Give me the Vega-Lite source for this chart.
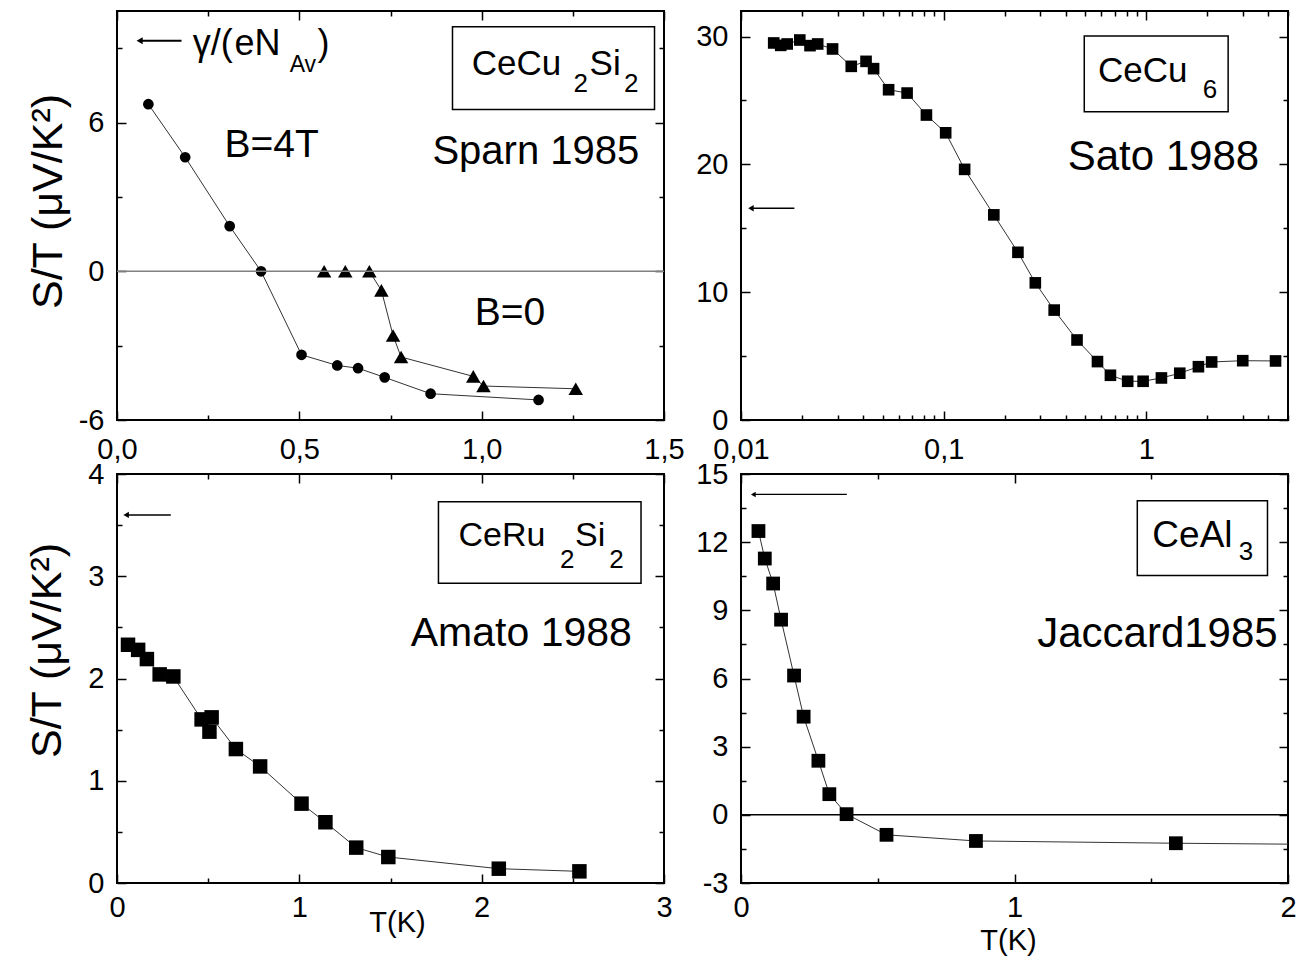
{
  "$schema": "https://vega.github.io/schema/vega-lite/v6.json",
  "background": "white",
  "padding": {"left": 25, "top": 9, "right": 5, "bottom": 5},
  "config": {
    "font": "Liberation Sans",
    "view": {"stroke": "black", "strokeWidth": 2},
    "axis": {"grid": false, "domain": false, "tickColor": "black", "tickWidth": 1.5, "labelFont": "Liberation Sans", "labelFontSize": 29, "labelColor": "black", "labelFlush": false, "labelOverlap": false, "labelBound": false, "titleFont": "Liberation Sans", "titleFontWeight": "normal", "titleColor": "black"}
  },
  "datasets": {
    "p1": [
      {"B": "4T", "T": 0.0860, "S": 6.74}, {"B": "4T", "T": 0.187, "S": 4.60}, {"B": "4T", "T": 0.309, "S": 1.82}, {"B": "4T", "T": 0.395, "S": 0.0}, {"B": "4T", "T": 0.506, "S": -3.37}, {"B": "4T", "T": 0.604, "S": -3.8}, {"B": "4T", "T": 0.661, "S": -3.91}, {"B": "4T", "T": 0.734, "S": -4.28}, {"B": "4T", "T": 0.86, "S": -4.94}, {"B": "4T", "T": 1.156, "S": -5.19},
      {"B": "0", "T": 0.568, "S": 0.0}, {"B": "0", "T": 0.626, "S": 0.0}, {"B": "0", "T": 0.692, "S": 0.0}, {"B": "0", "T": 0.725, "S": -0.77}, {"B": "0", "T": 0.757, "S": -2.59}, {"B": "0", "T": 0.779, "S": -3.46}, {"B": "0", "T": 0.977, "S": -4.24}, {"B": "0", "T": 1.005, "S": -4.63}, {"B": "0", "T": 1.258, "S": -4.74}
    ],
    "p2": [
      {"T": 0.0145, "S": 29.5}, {"T": 0.0157, "S": 29.31}, {"T": 0.0169, "S": 29.42}, {"T": 0.0195, "S": 29.73}, {"T": 0.0219, "S": 29.29}, {"T": 0.0239, "S": 29.42}, {"T": 0.0283, "S": 29.03}, {"T": 0.035, "S": 27.67}, {"T": 0.0414, "S": 28.06}, {"T": 0.0451, "S": 27.49}, {"T": 0.0535, "S": 25.84}, {"T": 0.066, "S": 25.58}, {"T": 0.0822, "S": 23.86}, {"T": 0.1023, "S": 22.47}, {"T": 0.1269, "S": 19.61}, {"T": 0.1768, "S": 16.05}, {"T": 0.2325, "S": 13.12}, {"T": 0.2833, "S": 10.73}, {"T": 0.351, "S": 8.6}, {"T": 0.455, "S": 6.26}, {"T": 0.574, "S": 4.57}, {"T": 0.665, "S": 3.5}, {"T": 0.809, "S": 3.03}, {"T": 0.964, "S": 3.03}, {"T": 1.187, "S": 3.29}, {"T": 1.462, "S": 3.66}, {"T": 1.807, "S": 4.17}, {"T": 2.1, "S": 4.54}, {"T": 2.99, "S": 4.64}, {"T": 4.34, "S": 4.62}
    ],
    "p3": [
      {"T": 0.0604, "S": 2.33}, {"T": 0.116, "S": 2.28}, {"T": 0.164, "S": 2.19}, {"T": 0.234, "S": 2.04}, {"T": 0.309, "S": 2.02}, {"T": 0.464, "S": 1.6}, {"T": 0.507, "S": 1.48}, {"T": 0.519, "S": 1.62}, {"T": 0.652, "S": 1.31}, {"T": 0.785, "S": 1.14}, {"T": 1.012, "S": 0.776}, {"T": 1.143, "S": 0.594}, {"T": 1.312, "S": 0.346}, {"T": 1.488, "S": 0.254}, {"T": 2.094, "S": 0.14}, {"T": 2.536, "S": 0.114}
    ],
    "p4": [
      {"T": 0.0638, "S": 12.49}, {"T": 0.087, "S": 11.28}, {"T": 0.1175, "S": 10.18}, {"T": 0.1465, "S": 8.59}, {"T": 0.194, "S": 6.13}, {"T": 0.229, "S": 4.32}, {"T": 0.283, "S": 2.38}, {"T": 0.323, "S": 0.91}, {"T": 0.386, "S": 0.03}, {"T": 0.532, "S": -0.88}, {"T": 0.859, "S": -1.15}, {"T": 1.59, "S": -1.25}
    ],
    "p4line": [
      {"T": 0.0638, "S": 12.49}, {"T": 0.087, "S": 11.28}, {"T": 0.1175, "S": 10.18}, {"T": 0.1465, "S": 8.59}, {"T": 0.194, "S": 6.13}, {"T": 0.229, "S": 4.32}, {"T": 0.283, "S": 2.38}, {"T": 0.323, "S": 0.91}, {"T": 0.386, "S": 0.03}, {"T": 0.532, "S": -0.88}, {"T": 0.859, "S": -1.15}, {"T": 1.59, "S": -1.25}, {"T": 2.0, "S": -1.29}
    ]
  },
  "columns": 2,
  "spacing": {"row": 54, "column": 77},
  "bounds": "flush",
  "concat": [
    {
      "width": 547, "height": 409,
      "resolve": {"axis": {"x": "independent", "y": "independent"}},
      "layer": [
        {"data": {"name": "p1"}, "mark": {"type": "line", "color": "#333", "strokeWidth": 1},
         "encoding": {
           "x": {"field": "T", "type": "quantitative", "scale": {"domain": [0, 1.5], "nice": false, "zero": false},
                 "axis": {"orient": "bottom", "values": [0, 0.25, 0.5, 0.75, 1, 1.25, 1.5], "tickSize": {"condition": {"test": "datum.value*2 == round(datum.value*2)", "value": -9}, "value": -5}, "labelExpr": "datum.value*2 == round(datum.value*2) ? replace(format(datum.value, '.1f'), '.', ',') : ''", "labelPadding": 24, "title": null}},
           "y": {"field": "S", "type": "quantitative", "scale": {"domain": [-6, 10.5], "nice": false, "zero": false},
                 "axis": {"orient": "left", "values": [-6, -3, 0, 3, 6, 9], "tickSize": {"condition": {"test": "datum.value % 6 == 0", "value": -9}, "value": -5}, "labelExpr": "datum.value % 6 == 0 ? '' + datum.value : ''", "labelPadding": 22, "title": "S/T (μV/K²)", "titleFontSize": 43, "titleX": -69, "titleY": 190, "titleAlign": "center", "titleBaseline": "middle", "titleAngle": -90}},
           "detail": {"field": "B"}
         }},
        {"data": {"name": "p1"}, "mark": {"type": "point", "filled": true, "color": "black", "opacity": 1},
         "encoding": {
           "x": {"field": "T", "type": "quantitative", "scale": {"domain": [0, 1.5], "nice": false, "zero": false},
                 "axis": {"orient": "top", "values": [0, 0.25, 0.5, 0.75, 1, 1.25, 1.5], "tickSize": {"condition": {"test": "datum.value*2 == round(datum.value*2)", "value": -9}, "value": -5}, "labels": false, "title": null}},
           "y": {"field": "S", "type": "quantitative", "scale": {"domain": [-6, 10.5], "nice": false, "zero": false},
                 "axis": {"orient": "right", "values": [-6, -3, 0, 3, 6, 9], "tickSize": {"condition": {"test": "datum.value % 6 == 0", "value": -9}, "value": -5}, "labels": false, "title": null}},
           "shape": {"field": "B", "type": "nominal", "scale": {"domain": ["4T", "0"], "range": ["circle", "triangle-up"]}, "legend": null},
           "size": {"field": "B", "type": "nominal", "scale": {"domain": ["4T", "0"], "range": [115, 210]}, "legend": null}
         }},
        {"data": {"values": [{}]}, "mark": {"type": "rule", "color": "#808080", "strokeWidth": 1.5},
         "encoding": {"y": {"datum": 0, "type": "quantitative", "axis": null}}},
        {"data": {"values": [{}]}, "mark": {"type": "rect", "fill": "white", "fillOpacity": 0, "stroke": "black", "strokeWidth": 1.5},
         "encoding": {"x": {"datum": 0.92, "type": "quantitative", "axis": null}, "x2": {"datum": 1.474}, "y": {"datum": 9.86, "type": "quantitative", "axis": null}, "y2": {"datum": 6.53}}},
        {"data": {"values": [{}]}, "mark": {"type": "rule", "color": "black", "strokeWidth": 2},
         "encoding": {"x": {"datum": 0.062, "type": "quantitative", "axis": null}, "x2": {"datum": 0.177}, "y": {"datum": 9.3, "type": "quantitative", "axis": null}}},
        {"data": {"values": [{}]}, "mark": {"type": "point", "shape": "triangle-left", "filled": true, "color": "black", "opacity": 1, "size": 50},
         "encoding": {"x": {"datum": 0.062, "type": "quantitative", "axis": null}, "y": {"datum": 9.3, "type": "quantitative", "axis": null}}},
        {"data": {"values": [{}]}, "mark": {"type": "text", "text": "γ/(", "fontSize": 36, "align": "left", "baseline": "alphabetic", "color": "black"},
         "encoding": {"x": {"datum": 0.208, "type": "quantitative", "axis": null}, "y": {"datum": 8.73, "type": "quantitative", "axis": null}}},
        {"data": {"values": [{}]}, "mark": {"type": "text", "text": "eN", "fontSize": 36, "align": "left", "baseline": "alphabetic", "color": "black"},
         "encoding": {"x": {"datum": 0.322, "type": "quantitative", "axis": null}, "y": {"datum": 8.73, "type": "quantitative", "axis": null}}},
        {"data": {"values": [{}]}, "mark": {"type": "text", "text": "Av", "fontSize": 23, "align": "left", "baseline": "alphabetic", "color": "black"},
         "encoding": {"x": {"datum": 0.4735, "type": "quantitative", "axis": null}, "y": {"datum": 8.05, "type": "quantitative", "axis": null}}},
        {"data": {"values": [{}]}, "mark": {"type": "text", "text": ")", "fontSize": 36, "align": "left", "baseline": "alphabetic", "color": "black"},
         "encoding": {"x": {"datum": 0.55, "type": "quantitative", "axis": null}, "y": {"datum": 8.73, "type": "quantitative", "axis": null}}},
        {"data": {"values": [{}]}, "mark": {"type": "text", "text": "CeCu", "fontSize": 35, "align": "left", "baseline": "alphabetic", "color": "black"},
         "encoding": {"x": {"datum": 0.973, "type": "quantitative", "axis": null}, "y": {"datum": 7.92, "type": "quantitative", "axis": null}}},
        {"data": {"values": [{}]}, "mark": {"type": "text", "text": "2", "fontSize": 26, "align": "left", "baseline": "alphabetic", "color": "black"},
         "encoding": {"x": {"datum": 1.252, "type": "quantitative", "axis": null}, "y": {"datum": 7.22, "type": "quantitative", "axis": null}}},
        {"data": {"values": [{}]}, "mark": {"type": "text", "text": "Si", "fontSize": 35, "align": "left", "baseline": "alphabetic", "color": "black"},
         "encoding": {"x": {"datum": 1.296, "type": "quantitative", "axis": null}, "y": {"datum": 7.92, "type": "quantitative", "axis": null}}},
        {"data": {"values": [{}]}, "mark": {"type": "text", "text": "2", "fontSize": 26, "align": "left", "baseline": "alphabetic", "color": "black"},
         "encoding": {"x": {"datum": 1.39, "type": "quantitative", "axis": null}, "y": {"datum": 7.22, "type": "quantitative", "axis": null}}},
        {"data": {"values": [{}]}, "mark": {"type": "text", "text": "Sparn 1985", "fontSize": 40, "align": "left", "baseline": "alphabetic", "color": "black"},
         "encoding": {"x": {"datum": 0.865, "type": "quantitative", "axis": null}, "y": {"datum": 4.31, "type": "quantitative", "axis": null}}},
        {"data": {"values": [{}]}, "mark": {"type": "text", "text": "B=4T", "fontSize": 39, "align": "left", "baseline": "alphabetic", "color": "black"},
         "encoding": {"x": {"datum": 0.295, "type": "quantitative", "axis": null}, "y": {"datum": 4.62, "type": "quantitative", "axis": null}}},
        {"data": {"values": [{}]}, "mark": {"type": "text", "text": "B=0", "fontSize": 39, "align": "left", "baseline": "alphabetic", "color": "black"},
         "encoding": {"x": {"datum": 0.981, "type": "quantitative", "axis": null}, "y": {"datum": -2.18, "type": "quantitative", "axis": null}}}
      ]
    },
    {
      "width": 547, "height": 409,
      "resolve": {"axis": {"x": "independent", "y": "independent"}},
      "layer": [
        {"data": {"name": "p2"}, "mark": {"type": "line", "color": "#333", "strokeWidth": 1},
         "encoding": {
           "x": {"field": "T", "type": "quantitative", "scale": {"type": "log", "domain": [0.01, 5], "nice": false},
                 "axis": {"orient": "bottom", "values": [0.01, 0.02, 0.03, 0.04, 0.05, 0.06, 0.07, 0.08, 0.09, 0.1, 0.2, 0.3, 0.4, 0.5, 0.6, 0.7, 0.8, 0.9, 1, 2, 3, 4, 5], "tickSize": {"condition": {"test": "datum.value == 0.01 || datum.value == 0.1 || datum.value == 1", "value": -9}, "value": -5}, "labelExpr": "datum.value == 0.01 || datum.value == 0.1 || datum.value == 1 ? replace(format(datum.value, '~g'), '.', ',') : ''", "labelPadding": 24, "title": null}},
           "y": {"field": "S", "type": "quantitative", "scale": {"domain": [0, 32], "nice": false, "zero": false},
                 "axis": {"orient": "left", "values": [0, 5, 10, 15, 20, 25, 30], "tickSize": {"condition": {"test": "datum.value % 10 == 0", "value": -9}, "value": -5}, "labelExpr": "datum.value % 10 == 0 ? '' + datum.value : ''", "labelPadding": 22, "title": null}}
         }},
        {"data": {"name": "p2"}, "mark": {"type": "point", "shape": "square", "filled": true, "color": "black", "opacity": 1, "size": 135},
         "encoding": {
           "x": {"field": "T", "type": "quantitative", "scale": {"type": "log", "domain": [0.01, 5], "nice": false},
                 "axis": {"orient": "top", "values": [0.01, 0.02, 0.03, 0.04, 0.05, 0.06, 0.07, 0.08, 0.09, 0.1, 0.2, 0.3, 0.4, 0.5, 0.6, 0.7, 0.8, 0.9, 1, 2, 3, 4, 5], "tickSize": {"condition": {"test": "datum.value == 0.01 || datum.value == 0.1 || datum.value == 1", "value": -9}, "value": -5}, "labels": false, "title": null}},
           "y": {"field": "S", "type": "quantitative", "scale": {"domain": [0, 32], "nice": false, "zero": false},
                 "axis": {"orient": "right", "values": [0, 5, 10, 15, 20, 25, 30], "tickSize": {"condition": {"test": "datum.value % 10 == 0", "value": -9}, "value": -5}, "labels": false, "title": null}}
         }},
        {"data": {"values": [{}]}, "mark": {"type": "rect", "fill": "white", "fillOpacity": 0, "stroke": "black", "strokeWidth": 1.5},
         "encoding": {"x": {"datum": 0.494, "type": "quantitative", "axis": null}, "x2": {"datum": 2.533}, "y": {"datum": 30.05, "type": "quantitative", "axis": null}, "y2": {"datum": 24.11}}},
        {"data": {"values": [{}]}, "mark": {"type": "rule", "color": "black", "strokeWidth": 1.5},
         "encoding": {"x": {"datum": 0.0112, "type": "quantitative", "axis": null}, "x2": {"datum": 0.01834}, "y": {"datum": 16.57, "type": "quantitative", "axis": null}}},
        {"data": {"values": [{}]}, "mark": {"type": "point", "shape": "triangle-left", "filled": true, "color": "black", "opacity": 1, "size": 40},
         "encoding": {"x": {"datum": 0.0112, "type": "quantitative", "axis": null}, "y": {"datum": 16.57, "type": "quantitative", "axis": null}}},
        {"data": {"values": [{}]}, "mark": {"type": "text", "text": "CeCu", "fontSize": 35, "align": "left", "baseline": "alphabetic", "color": "black"},
         "encoding": {"x": {"datum": 0.578, "type": "quantitative", "axis": null}, "y": {"datum": 26.44, "type": "quantitative", "axis": null}}},
        {"data": {"values": [{}]}, "mark": {"type": "text", "text": "6", "fontSize": 26, "align": "left", "baseline": "alphabetic", "color": "black"},
         "encoding": {"x": {"datum": 1.9, "type": "quantitative", "axis": null}, "y": {"datum": 25.21, "type": "quantitative", "axis": null}}},
        {"data": {"values": [{}]}, "mark": {"type": "text", "text": "Sato 1988", "fontSize": 42, "align": "left", "baseline": "alphabetic", "color": "black"},
         "encoding": {"x": {"datum": 0.409, "type": "quantitative", "axis": null}, "y": {"datum": 19.58, "type": "quantitative", "axis": null}}}
      ]
    },
    {
      "width": 547, "height": 409,
      "resolve": {"axis": {"x": "independent", "y": "independent"}},
      "layer": [
        {"data": {"name": "p3"}, "mark": {"type": "line", "color": "#333", "strokeWidth": 1},
         "encoding": {
           "x": {"field": "T", "type": "quantitative", "scale": {"domain": [0, 3], "nice": false, "zero": false},
                 "axis": {"orient": "bottom", "values": [0, 0.5, 1, 1.5, 2, 2.5, 3], "tickSize": {"condition": {"test": "datum.value % 1 == 0", "value": -9}, "value": -5}, "labelExpr": "datum.value % 1 == 0 ? '' + datum.value : ''", "labelPadding": 19, "title": "T(K)", "titleFontSize": 29, "titleX": 280, "titleY": 39, "titleAlign": "center", "titleBaseline": "middle"}},
           "y": {"field": "S", "type": "quantitative", "scale": {"domain": [0, 4], "nice": false, "zero": false},
                 "axis": {"orient": "left", "values": [0, 0.5, 1, 1.5, 2, 2.5, 3, 3.5, 4], "tickSize": {"condition": {"test": "datum.value % 1 == 0", "value": -9}, "value": -5}, "labelExpr": "datum.value % 1 == 0 ? '' + datum.value : ''", "labelPadding": 22, "title": "S/T (μV/K²)", "titleFontSize": 43, "titleX": -70, "titleY": 176, "titleAlign": "center", "titleBaseline": "middle", "titleAngle": -90}}
         }},
        {"data": {"name": "p3"}, "mark": {"type": "point", "shape": "square", "filled": true, "color": "black", "opacity": 1, "size": 210},
         "encoding": {
           "x": {"field": "T", "type": "quantitative", "scale": {"domain": [0, 3], "nice": false, "zero": false},
                 "axis": {"orient": "top", "values": [0, 0.5, 1, 1.5, 2, 2.5, 3], "tickSize": {"condition": {"test": "datum.value % 1 == 0", "value": -9}, "value": -5}, "labels": false, "title": null}},
           "y": {"field": "S", "type": "quantitative", "scale": {"domain": [0, 4], "nice": false, "zero": false},
                 "axis": {"orient": "right", "values": [0, 0.5, 1, 1.5, 2, 2.5, 3, 3.5, 4], "tickSize": {"condition": {"test": "datum.value % 1 == 0", "value": -9}, "value": -5}, "labels": false, "title": null}}
         }},
        {"data": {"values": [{}]}, "mark": {"type": "rect", "fill": "white", "fillOpacity": 0, "stroke": "black", "strokeWidth": 1.5},
         "encoding": {"x": {"datum": 1.763, "type": "quantitative", "axis": null}, "x2": {"datum": 2.874}, "y": {"datum": 3.728, "type": "quantitative", "axis": null}, "y2": {"datum": 2.932}}},
        {"data": {"values": [{}]}, "mark": {"type": "rule", "color": "black", "strokeWidth": 1.5},
         "encoding": {"x": {"datum": 0.05, "type": "quantitative", "axis": null}, "x2": {"datum": 0.295}, "y": {"datum": 3.6, "type": "quantitative", "axis": null}}},
        {"data": {"values": [{}]}, "mark": {"type": "point", "shape": "triangle-left", "filled": true, "color": "black", "opacity": 1, "size": 40},
         "encoding": {"x": {"datum": 0.05, "type": "quantitative", "axis": null}, "y": {"datum": 3.6, "type": "quantitative", "axis": null}}},
        {"data": {"values": [{}]}, "mark": {"type": "text", "text": "CeRu", "fontSize": 34, "align": "left", "baseline": "alphabetic", "color": "black"},
         "encoding": {"x": {"datum": 1.873, "type": "quantitative", "axis": null}, "y": {"datum": 3.297, "type": "quantitative", "axis": null}}},
        {"data": {"values": [{}]}, "mark": {"type": "text", "text": "2", "fontSize": 26, "align": "left", "baseline": "alphabetic", "color": "black"},
         "encoding": {"x": {"datum": 2.43, "type": "quantitative", "axis": null}, "y": {"datum": 3.079, "type": "quantitative", "axis": null}}},
        {"data": {"values": [{}]}, "mark": {"type": "text", "text": "Si", "fontSize": 34, "align": "left", "baseline": "alphabetic", "color": "black"},
         "encoding": {"x": {"datum": 2.512, "type": "quantitative", "axis": null}, "y": {"datum": 3.297, "type": "quantitative", "axis": null}}},
        {"data": {"values": [{}]}, "mark": {"type": "text", "text": "2", "fontSize": 26, "align": "left", "baseline": "alphabetic", "color": "black"},
         "encoding": {"x": {"datum": 2.7, "type": "quantitative", "axis": null}, "y": {"datum": 3.079, "type": "quantitative", "axis": null}}},
        {"data": {"values": [{}]}, "mark": {"type": "text", "text": "Amato 1988", "fontSize": 41, "align": "left", "baseline": "alphabetic", "color": "black"},
         "encoding": {"x": {"datum": 1.611, "type": "quantitative", "axis": null}, "y": {"datum": 2.32, "type": "quantitative", "axis": null}}}
      ]
    },
    {
      "width": 547, "height": 409,
      "resolve": {"axis": {"x": "independent", "y": "independent"}},
      "layer": [
        {"data": {"name": "p4line"}, "mark": {"type": "line", "color": "#333", "strokeWidth": 1},
         "encoding": {
           "x": {"field": "T", "type": "quantitative", "scale": {"domain": [0, 2], "nice": false, "zero": false},
                 "axis": {"orient": "bottom", "values": [0, 0.5, 1, 1.5, 2], "tickSize": {"condition": {"test": "datum.value % 1 == 0", "value": -9}, "value": -5}, "labelExpr": "datum.value % 1 == 0 ? '' + datum.value : ''", "labelPadding": 19, "title": "T(K)", "titleFontSize": 29, "titleX": 267, "titleY": 57, "titleAlign": "center", "titleBaseline": "middle"}},
           "y": {"field": "S", "type": "quantitative", "scale": {"domain": [-3, 15], "nice": false, "zero": false},
                 "axis": {"orient": "left", "values": [-3, -1.5, 0, 1.5, 3, 4.5, 6, 7.5, 9, 10.5, 12, 13.5, 15], "tickSize": {"condition": {"test": "datum.value % 3 == 0", "value": -9}, "value": -5}, "labelExpr": "datum.value % 3 == 0 ? '' + datum.value : ''", "labelPadding": 22, "title": null}}
         }},
        {"data": {"name": "p4"}, "mark": {"type": "point", "shape": "square", "filled": true, "color": "black", "opacity": 1, "size": 190},
         "encoding": {
           "x": {"field": "T", "type": "quantitative", "scale": {"domain": [0, 2], "nice": false, "zero": false},
                 "axis": {"orient": "top", "values": [0, 0.5, 1, 1.5, 2], "tickSize": {"condition": {"test": "datum.value % 1 == 0", "value": -9}, "value": -5}, "labels": false, "title": null}},
           "y": {"field": "S", "type": "quantitative", "scale": {"domain": [-3, 15], "nice": false, "zero": false},
                 "axis": {"orient": "right", "values": [-3, -1.5, 0, 1.5, 3, 4.5, 6, 7.5, 9, 10.5, 12, 13.5, 15], "tickSize": {"condition": {"test": "datum.value % 3 == 0", "value": -9}, "value": -5}, "labels": false, "title": null}}
         }},
        {"data": {"values": [{}]}, "mark": {"type": "rule", "color": "black", "strokeWidth": 1.5},
         "encoding": {"y": {"datum": 0, "type": "quantitative", "axis": null}}},
        {"data": {"values": [{}]}, "mark": {"type": "rect", "fill": "white", "fillOpacity": 0, "stroke": "black", "strokeWidth": 1.5},
         "encoding": {"x": {"datum": 1.449, "type": "quantitative", "axis": null}, "x2": {"datum": 1.925}, "y": {"datum": 13.82, "type": "quantitative", "axis": null}, "y2": {"datum": 10.53}}},
        {"data": {"values": [{}]}, "mark": {"type": "rule", "color": "black", "strokeWidth": 1.2},
         "encoding": {"x": {"datum": 0.045, "type": "quantitative", "axis": null}, "x2": {"datum": 0.387}, "y": {"datum": 14.1, "type": "quantitative", "axis": null}}},
        {"data": {"values": [{}]}, "mark": {"type": "point", "shape": "triangle-left", "filled": true, "color": "black", "opacity": 1, "size": 30},
         "encoding": {"x": {"datum": 0.045, "type": "quantitative", "axis": null}, "y": {"datum": 14.1, "type": "quantitative", "axis": null}}},
        {"data": {"values": [{}]}, "mark": {"type": "text", "text": "CeAl", "fontSize": 37, "align": "left", "baseline": "alphabetic", "color": "black"},
         "encoding": {"x": {"datum": 1.504, "type": "quantitative", "axis": null}, "y": {"datum": 11.79, "type": "quantitative", "axis": null}}},
        {"data": {"values": [{}]}, "mark": {"type": "text", "text": "3", "fontSize": 26, "align": "left", "baseline": "alphabetic", "color": "black"},
         "encoding": {"x": {"datum": 1.82, "type": "quantitative", "axis": null}, "y": {"datum": 11.2, "type": "quantitative", "axis": null}}},
        {"data": {"values": [{}]}, "mark": {"type": "text", "text": "Jaccard1985", "fontSize": 42, "align": "left", "baseline": "alphabetic", "color": "black"},
         "encoding": {"x": {"datum": 1.083, "type": "quantitative", "axis": null}, "y": {"datum": 7.38, "type": "quantitative", "axis": null}}}
      ]
    }
  ]
}
